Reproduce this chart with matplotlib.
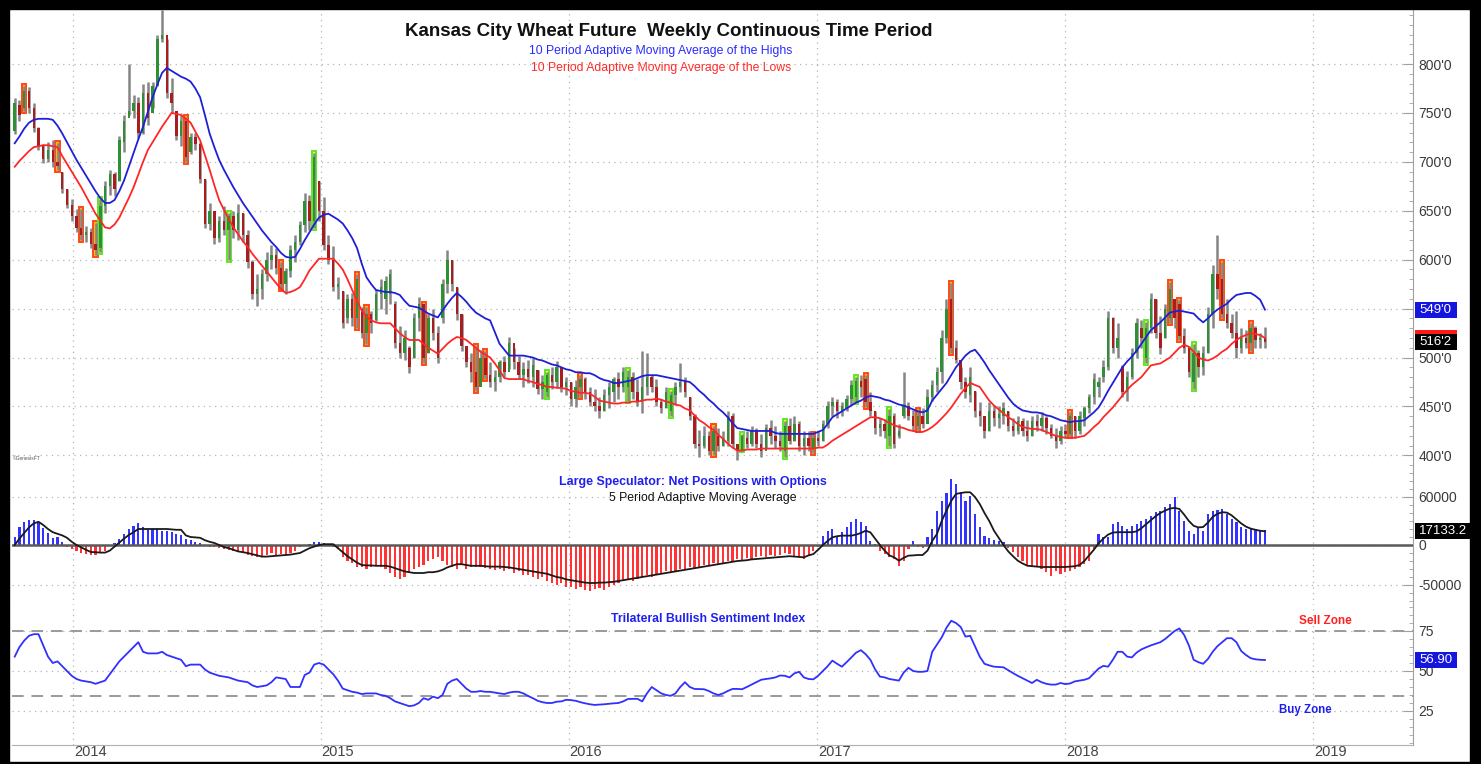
import numpy as np
import pandas as pd
import matplotlib
matplotlib.use('Agg')
import matplotlib.pyplot as plt
import matplotlib.dates as mdates
from matplotlib.patches import Rectangle
from matplotlib.ticker import FixedLocator, MultipleLocator, FuncFormatter

W, H = 1481, 764

# weekly bars, first week 2013-10-07
highs = [765, 763, 778, 776, 760, 736, 718, 720, 722, 719,
         690, 672, 662, 652, 652, 634, 632, 638, 662, 680,
         692, 690, 726, 748, 800, 768, 766, 780, 782, 782,
         830, 855, 826, 786, 752, 748, 746, 730, 730, 720,
         682, 658, 648, 645, 655, 648, 650, 657, 648, 630,
         600, 585, 590, 608, 615, 612, 598, 592, 615, 625,
         640, 668, 666, 709, 680, 664, 625, 614, 582, 568,
         565, 566, 585, 552, 552, 548, 570, 580, 583, 590,
         558, 532, 528, 512, 546, 562, 555, 545, 550, 532,
         580, 610, 600, 572, 545, 512, 505, 512, 508, 507,
         495, 487, 498, 502, 521, 510, 502, 495, 498, 500,
         487, 482, 485, 490, 496, 490, 480, 475, 477, 482,
         480, 470, 468, 460, 468, 475, 480, 485, 490, 487,
         485, 478, 507, 505, 482, 478, 458, 470, 466, 475,
         494, 480, 460, 442, 426, 430, 425, 430, 428, 425,
         445, 443, 412, 422, 425, 430, 428, 422, 432, 436,
         430, 425, 435, 438, 440, 435, 425, 425, 422, 425,
         436, 456, 460, 458, 455, 462, 477, 480, 482, 482,
         465, 445, 438, 437, 447, 443, 432, 485, 455, 446,
         446, 448, 468, 477, 490, 528, 560, 576, 518, 490,
         480, 490, 466, 455, 440, 455, 452, 450, 455, 445,
         438, 440, 438, 436, 440, 442, 444, 440, 432, 428,
         430, 432, 444, 440, 445, 450, 463, 484, 480, 497,
         548, 541, 535, 492, 486, 510, 540, 538, 536, 566,
         560, 542, 555, 577, 560, 559, 530, 512, 514, 508,
         512, 552, 595, 625, 598, 560, 545, 548, 530, 528,
         535, 532, 525, 531]
lows = [728, 742, 752, 750, 731, 712, 699, 700, 695, 692,
        668, 653, 640, 628, 620, 618, 612, 605, 608, 648,
        666, 665, 680, 710, 748, 745, 724, 728, 738, 755,
        778, 822, 765, 750, 722, 716, 700, 708, 712, 678,
        632, 630, 616, 618, 625, 600, 622, 620, 618, 592,
        560, 553, 560, 578, 590, 585, 570, 565, 582, 598,
        615, 628, 630, 632, 640, 610, 596, 568, 560, 530,
        535, 532, 530, 520, 514, 525, 537, 550, 545, 555,
        510, 500, 498, 484, 500, 527, 494, 505, 518, 494,
        535, 566, 568, 538, 507, 490, 475, 466, 480, 478,
        470, 466, 475, 480, 488, 488, 478, 470, 474, 470,
        463, 458, 460, 468, 470, 465, 462, 450, 449, 460,
        458, 450, 445, 438, 445, 448, 455, 458, 465, 456,
        458, 450, 443, 462, 465, 450, 443, 448, 440, 452,
        465, 460, 436, 408, 398, 408, 400, 400, 405, 410,
        410, 408, 395, 405, 408, 410, 408, 398, 408, 412,
        408, 405, 398, 412, 415, 405, 400, 405, 402, 410,
        415, 428, 440, 438, 440, 445, 452, 455, 460, 449,
        440, 422, 420, 418, 410, 408, 418, 438, 436, 425,
        426, 428, 435, 456, 465, 474, 515, 505, 494, 468,
        459, 455, 439, 430, 418, 425, 430, 428, 432, 425,
        420, 422, 420, 415, 420, 425, 425, 422, 418, 408,
        412, 418, 420, 418, 422, 430, 443, 453, 460, 475,
        487, 505, 500, 460, 456, 478, 500, 510, 494, 525,
        520, 504, 520, 535, 530, 518, 505, 480, 468, 480,
        482, 505, 530, 560, 540, 530, 520, 500, 505, 510,
        507, 510, 510, 510]
opens = [732, 758, 755, 772, 755, 735, 716, 703, 712, 700,
         690, 672, 656, 645, 632, 625, 628, 616, 612, 655,
         675, 688, 680, 720, 745, 752, 760, 730, 770, 750,
         778, 826, 830, 770, 752, 726, 742, 710, 725, 718,
         682, 636, 650, 622, 640, 630, 645, 630, 648, 625,
         598, 565, 570, 585, 600, 605, 592, 575, 588, 610,
         618, 635, 660, 640, 680, 650, 615, 600, 572, 568,
         540, 560, 540, 550, 525, 545, 538, 565, 560, 565,
         555, 515, 505, 510, 500, 540, 555, 505, 540, 525,
         540, 575, 600, 572, 545, 512, 495, 485, 470, 500,
         482, 475, 480, 495, 485, 515, 495, 482, 488, 480,
         487, 468, 465, 482, 475, 490, 470, 475, 458, 470,
         478, 465, 455, 450, 445, 462, 465, 478, 470, 470,
         480, 465, 455, 470, 480, 470, 455, 448, 445, 462,
         470, 475, 460, 440, 412, 410, 420, 405, 420, 410,
         415, 440, 412, 405, 418, 412, 425, 412, 405, 428,
         420, 415, 405, 430, 415, 432, 410, 418, 408, 418,
         415, 432, 450, 455, 445, 448, 458, 460, 476, 478,
         455, 445, 428, 432, 420, 440, 420, 440, 450, 440,
         430, 440, 432, 460, 472, 485, 520, 560, 510, 498,
         475, 462, 466, 445, 440, 425, 445, 438, 440, 445,
         430, 425, 435, 425, 420, 435, 430, 438, 428, 420,
         415, 425, 422, 440, 425, 438, 448, 460, 470, 480,
         490, 540, 510, 490, 465, 480, 505, 530, 500, 530,
         560, 525, 520, 540, 560, 555, 522, 510, 475, 505,
         490, 505, 545, 585, 580, 545, 535, 525, 510, 520,
         515, 530, 518, 520]
closes = [760, 748, 772, 755, 735, 716, 703, 712, 700, 696,
          672, 656, 645, 632, 625, 628, 616, 610, 655, 675,
          688, 672, 722, 742, 752, 760, 730, 770, 745, 778,
          826, 830, 770, 760, 726, 742, 705, 725, 718, 682,
          636, 650, 622, 640, 630, 645, 630, 648, 625, 598,
          565, 570, 585, 600, 605, 592, 575, 588, 610, 618,
          635, 660, 640, 705, 650, 615, 600, 572, 575, 535,
          560, 540, 580, 525, 545, 535, 565, 572, 578, 585,
          515, 505, 520, 490, 540, 555, 500, 540, 525, 500,
          575, 600, 575, 545, 512, 495, 485, 470, 500, 482,
          475, 480, 495, 485, 515, 495, 482, 488, 480, 492,
          468, 475, 482, 475, 490, 470, 475, 458, 470, 478,
          465, 455, 450, 445, 462, 470, 478, 470, 485, 480,
          465, 455, 470, 480, 470, 455, 448, 465, 462, 470,
          475, 465, 440, 412, 410, 420, 405, 425, 410, 418,
          440, 412, 405, 420, 412, 425, 412, 405, 428, 420,
          415, 410, 430, 415, 432, 410, 418, 410, 418, 415,
          432, 450, 455, 445, 450, 458, 472, 476, 470, 455,
          445, 428, 432, 425, 440, 412, 425, 450, 440, 430,
          440, 432, 460, 472, 485, 520, 550, 510, 498, 475,
          465, 480, 445, 440, 425, 445, 438, 442, 448, 430,
          425, 435, 425, 420, 435, 430, 438, 428, 420, 415,
          425, 422, 440, 425, 440, 448, 460, 478, 475, 490,
          540, 510, 520, 465, 480, 505, 535, 520, 530, 560,
          525, 510, 550, 570, 540, 522, 510, 485, 505, 490,
          505, 545, 585, 570, 545, 535, 525, 510, 520, 515,
          530, 518, 520, 516.25]
ma_highs = [719, 726, 734, 740, 743, 744, 744, 744, 743, 737,
            729, 720, 711, 702, 694, 686, 678, 670, 663, 658,
            658, 661, 670, 681, 695, 709, 723, 736, 751, 766,
            779, 791, 796, 793, 790, 787, 785, 782, 775, 766,
            748, 729, 715, 702, 692, 683, 674, 666, 658, 651,
            644, 637, 630, 624, 618, 613, 607, 603, 602, 603,
            611, 620, 628, 636, 643, 646, 647, 644, 641, 637,
            630, 622, 612, 596, 582, 575, 569, 568, 567, 567,
            566, 564, 558, 553, 552, 551, 548, 545, 543, 541,
            548, 555, 561, 566, 562, 557, 551, 546, 543, 540,
            538, 526, 514, 508, 502, 502, 502, 502, 501, 500,
            498, 497, 495, 493, 492, 490, 488, 487, 485, 485,
            484, 484, 482, 479, 477, 476, 474, 474, 475, 476,
            477, 479, 481, 482, 482, 482, 481, 480, 479, 478,
            477, 476, 475, 471, 466, 462, 457, 453, 448, 444,
            439, 433, 428, 427, 426, 425, 425, 425, 425, 425,
            423, 422, 422, 422, 422, 422, 422, 422, 422, 424,
            426, 432, 439, 442, 445, 448, 451, 454, 456, 459,
            461, 460, 459, 457, 456, 454, 452, 451, 449, 447,
            445, 444, 446, 456, 462, 468, 474, 482, 490, 496,
            502, 506, 508, 502, 495, 487, 480, 473, 466, 459,
            453, 449, 446, 445, 444, 444, 443, 441, 440, 438,
            436, 435, 434, 435, 435, 436, 440, 444, 449, 457,
            466, 474, 482, 490, 496, 501, 507, 514, 521, 528,
            532, 536, 541, 546, 547, 548, 547, 546, 545, 540,
            536, 540, 545, 549, 552, 555, 560, 564, 565, 566,
            566, 563, 559, 549]
ma_lows = [695, 701, 706, 711, 715, 716, 717, 717, 716, 715,
           706, 698, 690, 682, 674, 665, 656, 647, 640, 633,
           632, 636, 643, 653, 663, 674, 687, 700, 712, 720,
           728, 736, 743, 750, 749, 748, 744, 740, 731, 722,
           707, 692, 676, 661, 651, 642, 633, 626, 619, 613,
           606, 600, 594, 588, 582, 576, 570, 566, 567, 569,
           572, 580, 589, 595, 601, 601, 601, 601, 596, 590,
           580, 569, 558, 548, 542, 538, 536, 535, 535, 535,
           530, 525, 521, 518, 518, 518, 514, 510, 507, 504,
           509, 514, 518, 521, 520, 518, 514, 510, 506, 503,
           500, 494, 487, 479, 478, 478, 478, 478, 476, 475,
           473, 472, 470, 470, 469, 469, 468, 466, 465, 464,
           464, 463, 460, 456, 455, 454, 453, 453, 454, 454,
           455, 455, 456, 457, 457, 458, 457, 455, 454, 452,
           451, 448, 446, 441, 436, 433, 429, 426, 421, 417,
           412, 408, 405, 405, 406, 406, 406, 407, 407, 407,
           407, 407, 407, 407, 407, 407, 407, 407, 407, 408,
           408, 411, 415, 418, 421, 424, 427, 430, 433, 436,
           439, 439, 438, 436, 433, 431, 429, 428, 426, 425,
           424, 424, 426, 429, 433, 438, 443, 449, 456, 463,
           469, 474, 472, 470, 463, 456, 451, 447, 443, 439,
           436, 432, 429, 428, 427, 427, 426, 424, 422, 420,
           419, 418, 418, 418, 419, 420, 424, 429, 433, 439,
           444, 449, 455, 461, 467, 472, 476, 480, 486, 492,
           493, 494, 497, 500, 505, 510, 513, 511, 506, 500,
           498, 497, 499, 502, 506, 509, 514, 518, 521, 523,
           525, 524, 523, 520]
sell_signals = [2, 9, 14, 17, 36, 56, 72, 74, 86, 97, 99, 119, 147, 168,
                179, 190, 197, 222, 243, 245, 254, 260]
buy_signals = [18, 45, 63, 112, 129, 138, 153, 162, 177, 184, 238, 248]

# large speculator net positions (contracts)
net_pos = [10000, 22500, 29000, 31000, 31000, 27500, 21000, 15000, 8750, 10000,
           3750, -2000, -5000, -8000, -10000, -11000, -12500, -12000, -10000, -8000,
           -1000, 3000, 8000, 14000, 20000, 24000, 27500, 22000, 20000, 20000,
           20000, 18000, 17000, 16000, 14000, 12000, 8000, 6000, 4000, 3000,
           -1000, -2000, -3000, -4000, -5000, -6000, -7000, -9000, -10000, -12000,
           -14000, -15000, -14000, -12000, -10000, -12000, -11000, -13000, -10000, -8000,
           -3000, -1000, 1000, 4000, 4000, 3000, -1000, -3000, -5000, -15000,
           -20000, -22000, -27000, -28000, -30000, -28000, -25000, -28000, -30000, -35000,
           -40000, -43000, -40000, -35000, -30000, -28000, -25000, -20000, -18000, -15000,
           -20000, -25000, -28000, -30000, -25000, -30000, -28000, -28000, -28000, -29000,
           -30000, -31000, -30000, -32000, -30000, -35000, -33000, -37000, -38000, -40000,
           -42000, -40000, -45000, -47000, -50000, -48000, -52000, -53000, -55000, -52000,
           -56000, -57000, -55000, -54000, -56000, -52000, -50000, -48000, -45000, -42000,
           -45000, -43000, -40000, -38000, -40000, -36000, -35000, -33000, -35000, -32000,
           -30000, -30000, -28000, -30000, -27000, -25000, -25000, -23000, -24000, -22000,
           -20000, -20000, -18000, -19000, -16000, -17000, -15000, -14000, -15000, -12000,
           -14000, -12000, -10000, -11000, -14000, -15500, -17500, -13000, -7000, -3000,
           11700, 17900, 20000, 9600, 15800, 22100, 28400, 32500, 28400, 24200,
           5400, 1200, -7100, -11300, -15400, -17500, -25900, -19600, -5000, 5400,
           -2900, -3800, 9600, 20000, 43000, 55000, 65000, 82600, 76300, 65900,
           55500, 61700, 38800, 22100, 11700, 8800, 6300, 5400, 3300, -3800,
           -9200, -15400, -19600, -25000, -27900, -27900, -30000, -34200, -38400, -32100,
           -36300, -34000, -32100, -30000, -27900, -23800, -19600, -5000, 13800, 9600,
           9600, 26300, 28400, 24200, 20000, 24200, 26300, 30400, 32500, 36700,
           40900, 43000, 47100, 51300, 59600, 43000, 30400, 17900, 13800, 22100,
           17900, 38800, 43000, 43800, 45000, 38800, 32500, 28400, 22100, 20000,
           20000, 20000, 18800, 18800]
net_ama = [0, 8000, 15000, 22000, 27000, 29000, 25000, 20000, 16000, 14000,
           12000, 9000, 4000, 0, -3000, -6000, -8750, -9000, -9500, -9500,
           -7000, -2000, 3000, 8000, 12500, 16000, 20000, 20000, 20000, 20000,
           20000, 20000, 20000, 19500, 19000, 19000, 12000, 10000, 9500, 9000,
           6000, 4000, 2500, 0, -2500, -4000, -6000, -8000, -9000, -10000,
           -11500, -13000, -14500, -14500, -14000, -13500, -13000, -12500, -12000, -11000,
           -10000, -7000, -4000, -2000, 0, 1000, 1000, 1000, -4000, -9000,
           -14000, -18000, -22000, -25000, -25500, -25500, -26000, -26000, -26000, -27000,
           -29000, -31000, -33000, -34000, -35000, -35000, -35000, -34000, -34000, -33000,
           -31000, -28000, -26000, -24000, -24000, -25000, -26000, -26000, -26000, -26500,
           -27000, -27000, -27000, -27500, -28000, -29000, -30000, -31000, -32000, -33000,
           -34000, -35000, -36000, -38000, -40000, -41000, -43000, -44000, -45000, -46000,
           -47000, -47500, -47500, -47000, -47000, -46500, -46000, -45000, -44000, -43000,
           -42000, -41000, -40000, -39000, -38000, -37000, -36000, -35000, -34000, -33000,
           -32000, -31000, -30000, -29000, -28000, -27000, -26000, -25000, -24000, -23000,
           -22000, -21000, -20000, -19500, -19000, -18000, -17500, -17000, -16500, -16000,
           -15500, -15000, -14500, -14000, -14500, -15000, -15400, -13000, -11300, -6000,
           0, 5000, 9600, 11000, 11700, 11700, 11700, 13000, 15000, 17900,
           15800, 8000, 0, -7000, -13000, -15400, -19600, -16000, -13300, -13000,
           -12500, -12500, -7100, 5000, 13800, 30000, 43000, 55000, 63800, 65000,
           65900, 65900, 60000, 51300, 40000, 30000, 17900, 9000, 0, -8000,
           -14000, -19600, -23000, -25900, -26500, -27000, -27500, -27500, -27500, -27500,
           -27500, -27500, -27000, -26500, -25000, -20000, -13000, -6000, 2000, 8000,
           13000, 15500, 16000, 16000, 16000, 16000, 17000, 21000, 26000, 31000,
           36000, 40000, 43000, 45500, 46500, 45000, 38000, 30000, 24000, 22000,
           22500, 28000, 35000, 39000, 41000, 40500, 37000, 32000, 27000, 23000,
           20500, 19000, 17800, 17133]
sentiment = [59, 65, 69, 72, 73, 73, 66, 59, 55, 56,
             53, 50, 47, 45, 44, 43.5, 43, 42, 43, 44,
             48, 52, 56, 59, 62, 65, 68, 62, 61, 61,
             61, 62, 60, 59, 58, 57, 53, 54, 54, 54,
             51, 49, 48, 47, 46.5, 46, 45, 44, 43.5, 43,
             41, 40, 40.5, 41, 43, 46, 45.5, 45, 40, 40,
             40, 47.5, 49, 54, 55, 54, 51, 48, 44, 39,
             38, 37, 36.5, 35.6, 36, 36, 36, 35, 34.5, 33,
             31, 30, 29, 28, 28.5, 30, 33, 32, 34, 33,
             35, 42, 44, 45, 42, 39, 37, 37, 37.5, 37,
             37, 36.5, 36, 35.6, 36.5, 37, 37, 36, 34.4, 33,
             31.4, 30.5, 30, 30, 30.8, 31, 32, 31.8, 31.4, 30.5,
             29.8, 29.2, 28.8, 29, 29.2, 29.5, 29.8, 30, 31, 32.5,
             32.6, 32.6, 31, 36, 40, 38, 36, 35, 34.5, 36,
             40, 43, 40, 38.8, 38.7, 38.6, 37.5, 36, 35, 36,
             37.5, 38.8, 38.8, 38.6, 40, 41.5, 43, 44.5, 45, 45.4,
             46, 47.2, 47, 46, 48.5, 49.5, 46, 45, 44.8, 47,
             50, 53, 56.5, 54.5, 52.7, 55.5, 58.5, 61.5, 63, 60.5,
             57, 51, 46.5, 46, 45, 44.5, 44, 49, 52, 50,
             49.5, 49.5, 50, 62, 66.5, 71, 77, 81.4, 80, 77.5,
             71.5, 72, 65.5, 59, 54.5, 53.5, 52.7, 52.5, 52.3, 50.5,
             48.7, 47, 45.5, 44, 42.5, 44.5, 43, 42, 41.5, 41.5,
             42.5, 41.8, 42.2, 43.5, 44, 44.5, 45.5, 48.5, 51.5, 53.2,
             52.7, 57, 62, 62, 59, 58.5, 61.5, 63.5, 64.8, 66,
             67, 68, 70, 72.5, 75, 76.6, 72.5, 66, 57, 55.5,
             54.5, 57.5, 62, 65.5, 68, 70.5, 70.5, 68, 62.5, 60,
             58, 57.3, 57, 56.9]

years = [2014, 2015, 2016, 2017, 2018, 2019]
price_ticks = [400, 450, 500, 550, 600, 650, 700, 750, 800]
net_ticks = [-50000, 0, 60000]
sent_ticks = [25, 50, 75]
sell_zone, buy_zone = 75, 34.5

plt.rcParams['font.family'] = ['Liberation Sans', 'DejaVu Sans']

dates = pd.date_range('2013-10-07', periods=len(closes), freq='7D')
xd = mdates.date2num(dates)
year_x = [mdates.date2num(pd.Timestamp(f'{y}-01-01')) for y in years]
xmin = mdates.date2num(pd.Timestamp('2013-10-03'))
xmax = mdates.date2num(pd.Timestamp('2019-05-28'))

fig = plt.figure(figsize=(W / 100, H / 100), dpi=100)
fig.patch.set_facecolor('white')


def px_axes(x0, y0, x1, y1):
    return fig.add_axes([x0 / W, 1 - y1 / H, (x1 - x0) / W, (y1 - y0) / H])


def ftext(x, y, s, **kw):
    fig.text(x / W, 1 - y / H, s, **kw)


ax1 = px_axes(12, 10, 1413, 465)
ax2 = px_axes(12, 465, 1413, 605)
ax3 = px_axes(12, 605, 1413, 745)
AX_W = 1401.0

for ax in (ax1, ax2, ax3):
    ax.set_xlim(xmin, xmax)
    for s in ('top', 'left'):
        ax.spines[s].set_visible(False)
    ax.spines['bottom'].set_color('#e2e2e2')
    ax.spines['right'].set_color('#a0a0a0')
    ax.yaxis.tick_right()
    ax.tick_params(axis='y', which='major', direction='in', length=7, colors='#a0a0a0',
                   labelcolor='#3a3a3a', labelsize=10, pad=4)
    ax.tick_params(axis='y', which='minor', direction='in', length=3, colors='#a0a0a0')
    ax.xaxis.set_major_locator(FixedLocator(year_x))
    ax.tick_params(axis='x', length=0, labelbottom=False)
    ax.grid(True, color='#b5b5b5', linestyle=(0, (1, 3.5)), linewidth=0.9)
    ax.set_axisbelow(True)
ax3.spines['bottom'].set_color('#b0b0b0')

# --- price panel
o, c = np.array(opens, float), np.array(closes, float)
hi, lo = np.array(highs, float), np.array(lows, float)
for i in sell_signals:
    ax1.add_patch(Rectangle((xd[i] - 3.0, lo[i] - 2), 6.0, hi[i] - lo[i] + 4,
                            facecolor='#ffb21a', edgecolor='#ff4a14', lw=1.4, zorder=2))
for i in buy_signals:
    ax1.add_patch(Rectangle((xd[i] - 3.0, lo[i] - 2), 6.0, hi[i] - lo[i] + 4,
                            facecolor='#f0ff3a', edgecolor='#5ee62a', lw=1.4, zorder=2))
ax1.vlines(xd, lo, hi, color='#858585', lw=1.8, zorder=3)
body_col = np.where(c >= o, '#2f8f35', '#a81e1e')
ax1.bar(xd, np.maximum(np.abs(c - o), 1.2), bottom=np.minimum(o, c), width=3.6,
        color=body_col, zorder=4)
ax1.plot(xd, ma_highs, color='#1f1fd8', lw=1.3, zorder=5)
ax1.plot(xd, ma_lows, color='#ff2626', lw=1.3, zorder=5)
ax1.set_ylim(390.2, 855.2)
ax1.yaxis.set_major_locator(FixedLocator(price_ticks))
ax1.yaxis.set_minor_locator(MultipleLocator(10))
# the 550 label sits under the last-value box, as in the source chart
ax1.yaxis.set_major_formatter(FuncFormatter(lambda v, p: '' if v == 550 else f"{int(v)}'0"))

# --- net positions panel
net = np.array(net_pos, float)
ax2.bar(xd, net, width=3.2, color=np.where(net >= 0, '#3333ff', '#ff3333'), zorder=2)
ax2.axhline(0, color='#5a5a5a', lw=1.8, zorder=3)
ax2.plot(xd, net_ama, color='#1a1a1a', lw=1.3, zorder=4)
ax2.set_ylim(-75000, 100000)
ax2.yaxis.set_major_locator(FixedLocator(net_ticks))
ax2.yaxis.set_minor_locator(MultipleLocator(10000))
ax2.yaxis.set_major_formatter(FuncFormatter(lambda v, p: f"{int(v)}"))

# --- sentiment panel
ax3.axhline(sell_zone, color='#9a9a9a', lw=1.4, ls=(0, (6, 4)), zorder=2)
ax3.axhline(buy_zone, color='#9a9a9a', lw=1.4, ls=(0, (6, 4)), zorder=2)
ax3.plot(xd, sentiment, color='#3030ff', lw=1.3, zorder=4)
ax3.set_ylim(3.75, 91.25)
ax3.yaxis.set_major_locator(FixedLocator(sent_ticks))
ax3.yaxis.set_minor_locator(MultipleLocator(5))

for yx, yr in zip(year_x, years):
    ax3.text(yx + 1, -0.05, str(yr), transform=ax3.get_xaxis_transform(), ha='left',
             va='center', fontsize=10.5, color='#444444', clip_on=False)


def value_box(ax, y, half, s, fc, w_px=42, zorder=10):
    tr = ax.get_yaxis_transform()
    x0 = 1 + 1.5 / AX_W
    ax.add_patch(Rectangle((x0, y - half), w_px / AX_W, 2 * half, transform=tr,
                           facecolor=fc, edgecolor='none', clip_on=False, zorder=zorder))
    if s:
        ax.text(x0 + w_px / AX_W / 2, y, s, transform=tr, ha='center', va='center',
                fontsize=9.5, color='white', clip_on=False, zorder=zorder + 0.5)


value_box(ax1, ma_highs[-1], 8.2, "549'0", '#1515e0')
value_box(ax1, ma_lows[-1], 8.2, '', '#ff1a1a', zorder=9)
value_box(ax1, closes[-1], 8.2, "516'2", '#000000', zorder=11)
value_box(ax2, net_ama[-1], 10000, '17133.2', '#000000', w_px=58)
value_box(ax3, sentiment[-1], 5.0, '56.90', '#1515e0')

# --- texts
ftext(669, 32, 'Kansas City Wheat Future  Weekly Continuous Time Period', ha='center', va='center',
      fontsize=13.5, fontweight='bold', color='#111111')
ftext(661, 51, '10 Period Adaptive Moving Average of the Highs', ha='center', va='center',
      fontsize=8.8, color='#2a2aff')
ftext(661, 68, '10 Period Adaptive Moving Average of the Lows', ha='center', va='center',
      fontsize=8.8, color='#ff2a2a')
ftext(13, 459, '\u00a9GenesisFT', ha='left', va='center', fontsize=3.5, color='#555555')
ftext(693, 482, 'Large Speculator: Net Positions with Options', ha='center', va='center',
      fontsize=8.9, fontweight='bold', color='#2020ee')
ftext(703, 498, '5 Period Adaptive Moving Average', ha='center', va='center',
      fontsize=8.8, color='#111111')
ftext(708, 619, 'Trilateral Bullish Sentiment Index', ha='center', va='center',
      fontsize=8.8, fontweight='bold', color='#2020ee')
ftext(1325, 621, 'Sell Zone', ha='center', va='center', fontsize=8.5, fontweight='bold',
      color='#ff2020')
ftext(1305, 710, 'Buy Zone', ha='center', va='center', fontsize=8.3, fontweight='bold',
      color='#2020ee')

# black frame
for rect in [(0, 0, 9, H), (0, 0, W, 9), (1470, 0, 11, H), (0, H - 2, W, 2)]:
    x0, y0, w, h = rect
    fig.add_artist(Rectangle((x0 / W, 1 - (y0 + h) / H), w / W, h / H,
                             transform=fig.transFigure, color='black', zorder=20))

fig.savefig('out.png', dpi=100)
